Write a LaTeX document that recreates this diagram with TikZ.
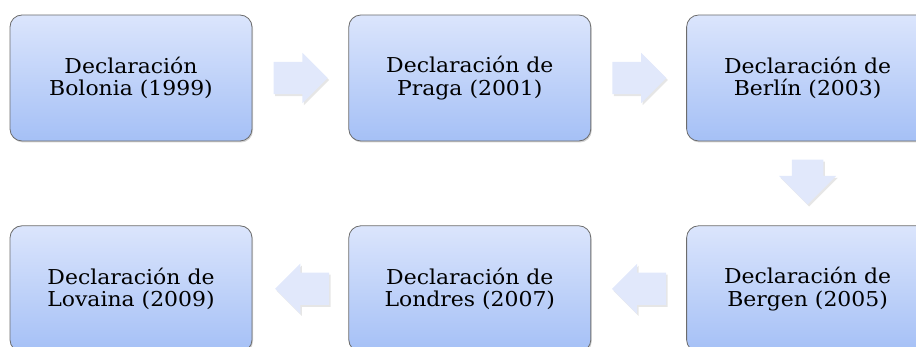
\documentclass[tikz,border=0pt]{standalone}
\usepackage{fontspec}
\setmainfont{DejaVu Serif}[FakeStretch=1.07]
\usetikzlibrary{positioning,shapes.arrows,shadows}
\definecolor{boxtop}{HTML}{DBE5FC}
\definecolor{boxbot}{HTML}{A5C0F6}
\definecolor{arrowfill}{HTML}{E1E8FB}
\begin{document}
\begin{tikzpicture}[x=1pt, y=1pt,
	every node/.style={font=\fontsize{20.5}{22.7}\selectfont},
	decl/.style={draw=gray!85!black, line width=0.8pt, rounded corners=12pt, top color=boxtop, bottom color=boxbot, minimum width=242pt, minimum height=126pt, align=center, inner sep=0pt, drop shadow={shadow xshift=1pt, shadow yshift=-1.5pt, opacity=0.35}},
	flecha/.style={single arrow, draw=none, fill=arrowfill, minimum height=54pt, minimum width=50pt, single arrow head extend=9pt, inner xsep=0pt, inner ysep=16pt, drop shadow={shadow xshift=1.5pt, shadow yshift=-2pt, opacity=0.2}}]
	\useasboundingbox (0,0) rectangle (916,347);
	\clip (0,0) rectangle (916,347);
	
	\node[decl] (bolonia) at (131,269) {Declaración\\Bolonia (1999)};
	\node[decl, right=96pt of bolonia] (praga) {Declaración de\\Praga (2001)};
	\node[decl, right=95pt of praga] (berlin) {Declaración de\\Berlín (2003)};
	\node[decl, below=84pt of berlin] (bergen) {Declaración de\\Bergen (2005)};
	\node[decl, left=95pt of bergen] (londres) {Declaración de\\Londres (2007)};
	\node[decl, left=96pt of londres] (lovaina) {Declaración de\\Lovaina (2009)};
	
	\node[flecha, right=21pt of bolonia, anchor=tail] (f1) {};
	\node[flecha, right=21pt of praga, anchor=tail] (f2) {};
	\node[flecha, shape border rotate=270, minimum height=45pt, minimum width=57pt, single arrow head extend=13pt, inner xsep=15.5pt, inner ysep=0pt, below=18pt of berlin, anchor=tail] (f3) {};
	\node[flecha, shape border rotate=180, left=20pt of bergen, anchor=tail] (f4) {};
	\node[flecha, shape border rotate=180, left=19pt of londres, anchor=tail] (f5) {};
\end{tikzpicture}
\end{document}
